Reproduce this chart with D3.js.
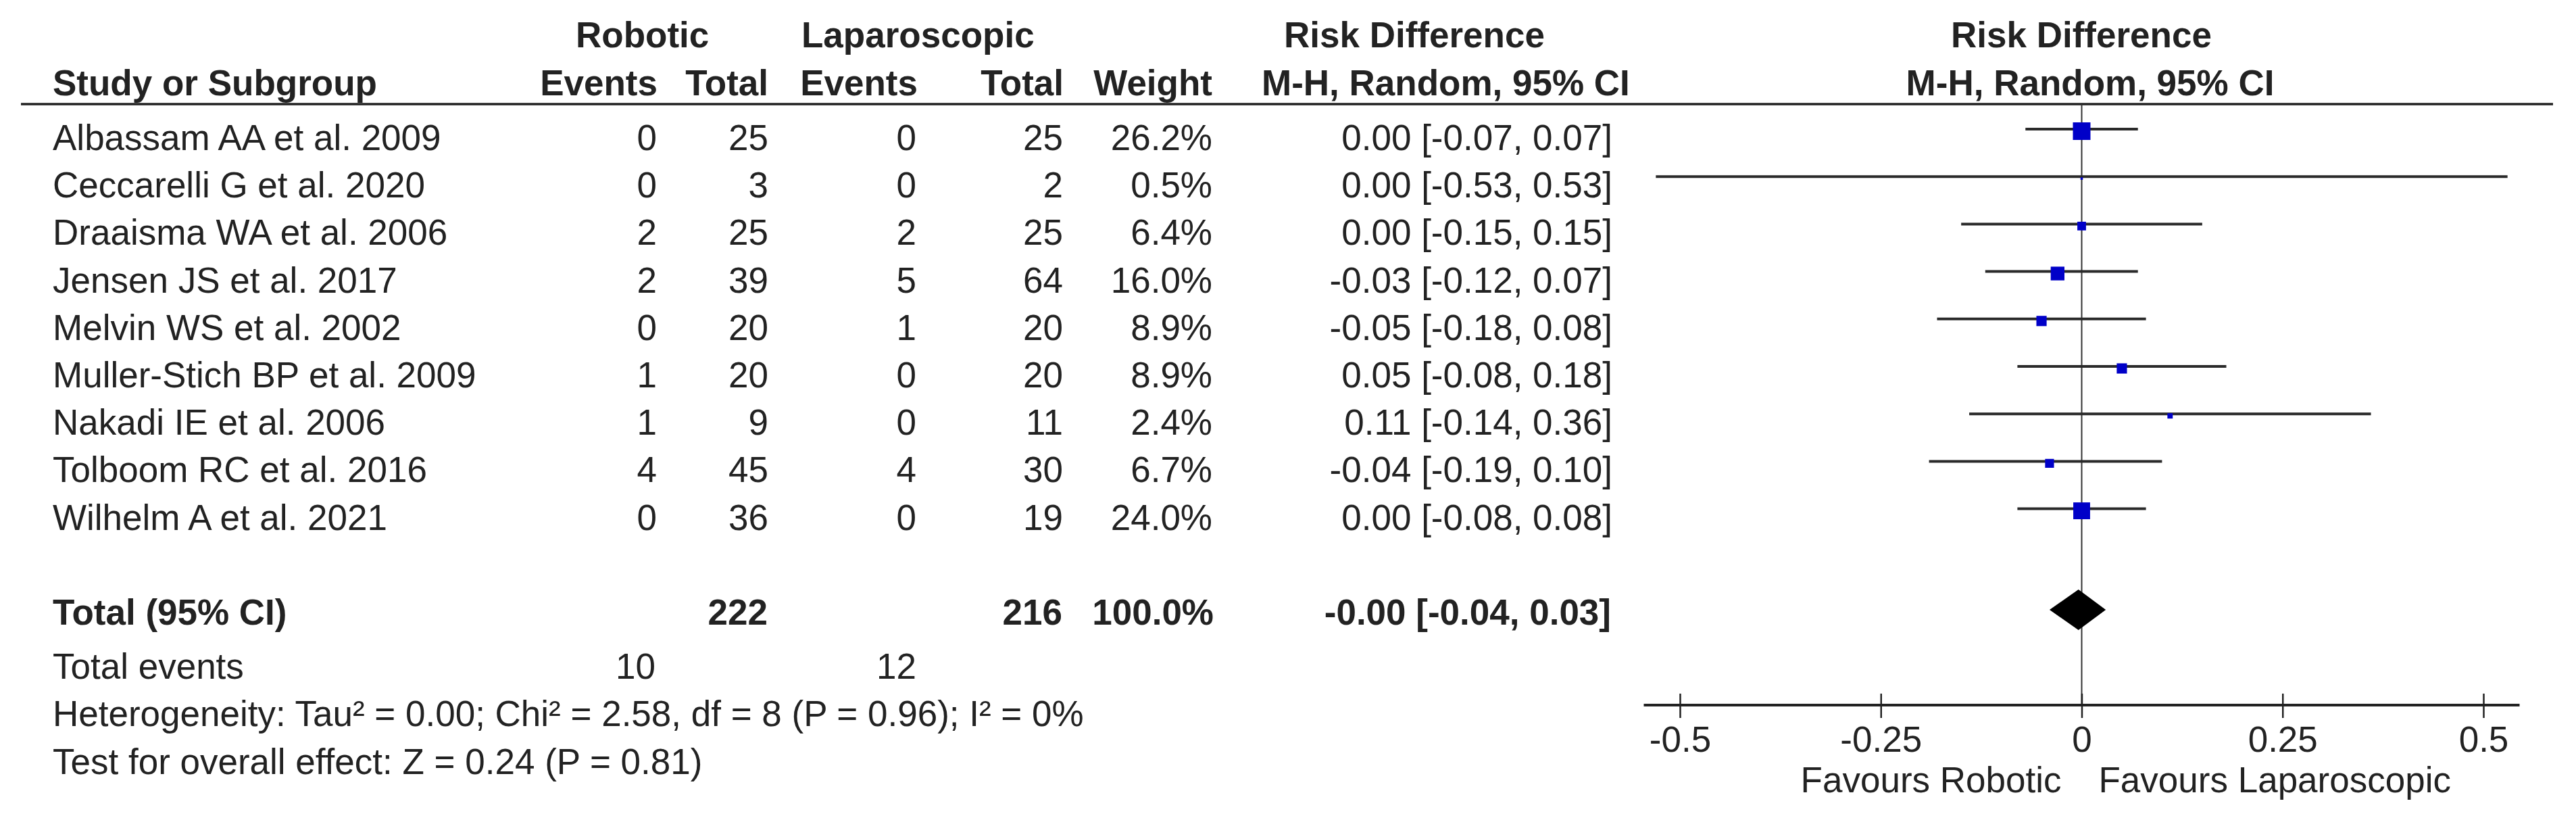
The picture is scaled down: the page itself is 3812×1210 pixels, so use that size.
<!DOCTYPE html>
<html>
<head>
<meta charset="utf-8">
<script src="https://cdn.jsdelivr.net/npm/d3@7"></script>
<style>
  html, body { margin: 0; padding: 0; background: #fff; }
  svg text { font-family: "Liberation Sans", Arial, Helvetica, sans-serif; fill: #222; }
</style>
</head>
<body>
<svg id="chart" width="3812" height="1210"></svg>
<script>
// ---------------- data ----------------
const studies = ["Albassam AA et al. 2009", "Ceccarelli G et al. 2020", "Draaisma WA et al. 2006",
  "Jensen JS et al. 2017", "Melvin WS et al. 2002", "Muller-Stich BP et al. 2009",
  "Nakadi IE et al. 2006", "Tolboom RC et al. 2016", "Wilhelm A et al. 2021"];
const robEvents = [0, 0, 2, 2, 0, 1, 1, 4, 0];
const robTotal  = [25, 3, 25, 39, 20, 20, 9, 45, 36];
const lapEvents = [0, 0, 2, 5, 1, 0, 0, 4, 0];
const lapTotal  = [25, 2, 25, 64, 20, 20, 11, 30, 19];
const weights   = [26.2, 0.5, 6.4, 16.0, 8.9, 8.9, 2.4, 6.7, 24.0];
const rd        = [0.00, 0.00, 0.00, -0.03, -0.05, 0.05, 0.11, -0.04, 0.00];
const ciLow     = [-0.07, -0.53, -0.15, -0.12, -0.18, -0.08, -0.14, -0.19, -0.08];
const ciHigh    = [0.07, 0.53, 0.15, 0.07, 0.08, 0.18, 0.36, 0.10, 0.08];

const totalRob = 222, totalLap = 216, totalWeight = 100.0;
const totalRD = -0.004, totalLow = -0.04, totalHigh = 0.03;
const totalEventsRob = 10, totalEventsLap = 12;
const heterogeneityText = "Heterogeneity: Tau\u00B2 = 0.00; Chi\u00B2 = 2.58, df = 8 (P = 0.96); I\u00B2 = 0%";
const overallText = "Test for overall effect: Z = 0.24 (P = 0.81)";
const axisTicks = [-0.5, -0.25, 0, 0.25, 0.5];
const axisTickLabels = ["-0.5", "-0.25", "0", "0.25", "0.5"];
const favourLeft = "Favours Robotic", favourRight = "Favours Laparoscopic";

// ---------------- layout ----------------
const FS = 53;
const svg = d3.select("#chart");
svg.append("rect").attr("width", 3812).attr("height", 1210).attr("fill", "#fff");

const x = d3.scaleLinear().domain([-0.5, 0.5]).range([2486, 3675]);
const rowBase = d3.scaleLinear().domain([0, 1]).range([222, 292.2]); // baseline of row i
const f2 = v => v.toFixed(2);
const ciStr = (m, l, h) => `${f2(m)} [${f2(l)}, ${f2(h)}]`;

function txt(xp, yp, s, anchor, bold) {
  return svg.append("text").attr("x", xp).attr("y", yp)
    .attr("text-anchor", anchor || "start")
    .attr("font-size", FS)
    .attr("font-weight", bold ? "bold" : "normal")
    .text(s);
}

// header
txt(852, 70, "Robotic", "start", true);
txt(1186, 70, "Laparoscopic", "start", true);
txt(1900, 70, "Risk Difference", "start", true);
txt(3080, 70, "Risk Difference", "middle", true);

txt(78, 141, "Study or Subgroup", "start", true);
txt(973, 141, "Events", "end", true);
txt(1137, 141, "Total", "end", true);
txt(1358, 141, "Events", "end", true);
txt(1574, 141, "Total", "end", true);
txt(1794, 141, "Weight", "end", true);
txt(1867, 141, "M-H, Random, 95% CI", "start", true);
txt(3093, 141, "M-H, Random, 95% CI", "middle", true);

svg.append("line").attr("x1", 31).attr("x2", 3778).attr("y1", 154).attr("y2", 154)
  .attr("stroke", "#222").attr("stroke-width", 3.5);

// zero line
const axisY = 1043;
svg.append("line").attr("x1", x(0)).attr("x2", x(0)).attr("y1", 154).attr("y2", axisY)
  .attr("stroke", "#333").attr("stroke-width", 2);

// study rows
studies.forEach((s, i) => {
  const b = rowBase(i);
  txt(78, b, s);
  txt(972, b, String(robEvents[i]), "end");
  txt(1137, b, String(robTotal[i]), "end");
  txt(1356, b, String(lapEvents[i]), "end");
  txt(1573, b, String(lapTotal[i]), "end");
  txt(1794, b, weights[i].toFixed(1) + "%", "end");
  txt(2386, b, ciStr(rd[i], ciLow[i], ciHigh[i]), "end");

  const ly = b - 31;
  svg.append("line").attr("x1", x(ciLow[i])).attr("x2", x(ciHigh[i]))
    .attr("y1", ly).attr("y2", ly).attr("stroke", "#2a2a2a").attr("stroke-width", 4);
  const side = 5.08 * Math.sqrt(weights[i]);
  svg.append("rect").attr("x", x(rd[i]) - side / 2).attr("y", ly + 3 - side / 2)
    .attr("width", side).attr("height", side).attr("fill", "#0000c8");
});

// total row
const tb = 924;
txt(78, tb, "Total (95% CI)", "start", true);
txt(1136, tb, String(totalRob), "end", true);
txt(1572, tb, String(totalLap), "end", true);
txt(1796, tb, totalWeight.toFixed(1) + "%", "end", true);
txt(2384, tb, ciStr(totalRD, totalLow, totalHigh), "end", true);

const dy = 902, dh = 30;
svg.append("path")
  .attr("d", `M${x(totalLow)},${dy} L${x(totalRD)},${dy - dh} L${x(totalHigh)},${dy} L${x(totalRD)},${dy + dh} Z`)
  .attr("fill", "#000");

// total events & footers
txt(78, 1004, "Total events");
txt(970, 1004, String(totalEventsRob), "end");
txt(1356, 1004, String(totalEventsLap), "end");
txt(78, 1074, heterogeneityText);
txt(78, 1145, overallText);

// axis
const axis = d3.axisBottom(x).tickValues(axisTicks)
  .tickFormat((d, i) => axisTickLabels[i]).tickSizeOuter(0).tickSizeInner(19);
const ag = svg.append("g").attr("transform", `translate(0,${axisY})`).call(axis);
ag.select(".domain").remove();
ag.selectAll(".tick line").attr("y1", -17).attr("y2", 19).attr("stroke", "#222").attr("stroke-width", 2.5);
ag.selectAll(".tick text").attr("y", 69).attr("dy", null)
  .attr("font-size", FS).attr("font-family", "Liberation Sans, Arial, sans-serif").attr("fill", "#222");
ag.append("line").attr("x1", x(-0.545)).attr("x2", x(0.545)).attr("y1", 0).attr("y2", 0)
  .attr("stroke", "#222").attr("stroke-width", 4);

txt(x(0) - 30, 1172, favourLeft, "end");
txt(x(0) + 25, 1172, favourRight, "start");
</script>
</body>
</html>
